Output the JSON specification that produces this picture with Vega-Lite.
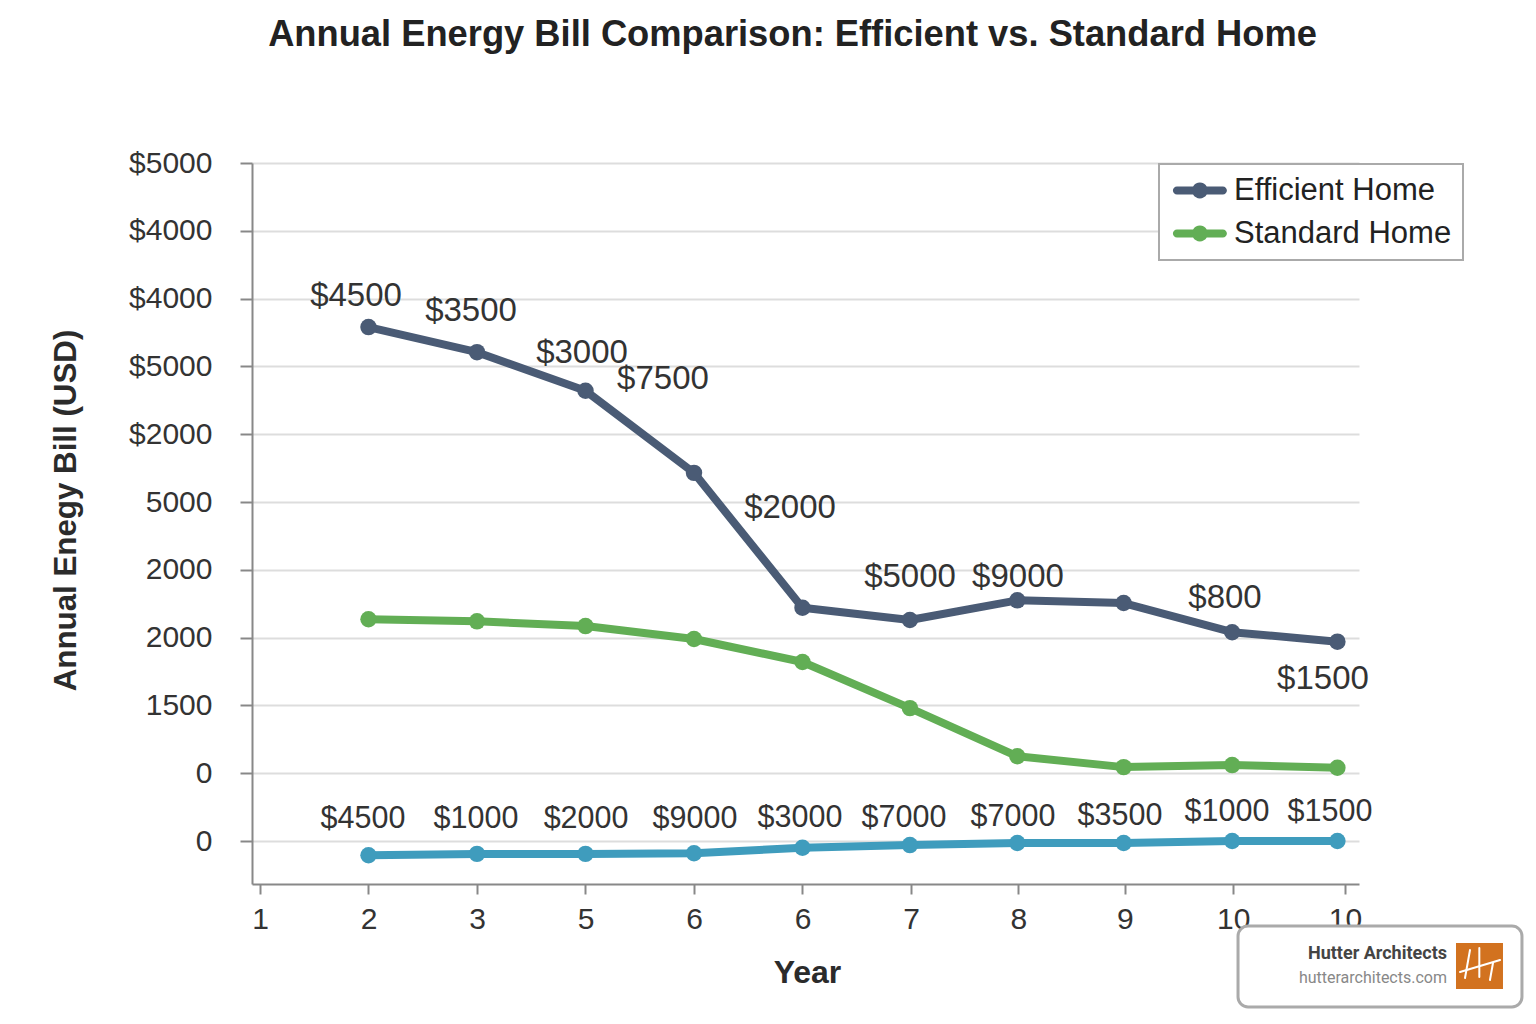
{
  "$schema": "https://vega.github.io/schema/vega-lite/v6.json",
  "width": 1107,
  "height": 721,
  "autosize": "none",
  "padding": {"left": 252, "top": 163, "right": 177, "bottom": 140},
  "background": "white",
  "title": {
    "text": "Annual Energy Bill Comparison: Efficient vs. Standard Home",
    "font": "Liberation Sans",
    "fontSize": 36.3,
    "fontWeight": "bold",
    "color": "#222222",
    "anchor": "middle",
    "dx": -13,
    "offset": 95
  },
  "datasets": {
    "bills": [
      {"series": "Efficient Home", "year": 1, "bill": 7.58},
      {"series": "Efficient Home", "year": 2, "bill": 7.21},
      {"series": "Efficient Home", "year": 3, "bill": 6.64},
      {"series": "Efficient Home", "year": 4, "bill": 5.43},
      {"series": "Efficient Home", "year": 5, "bill": 3.44},
      {"series": "Efficient Home", "year": 5.99, "bill": 3.26},
      {"series": "Efficient Home", "year": 6.98, "bill": 3.55},
      {"series": "Efficient Home", "year": 7.96, "bill": 3.51},
      {"series": "Efficient Home", "year": 8.96, "bill": 3.08},
      {"series": "Efficient Home", "year": 9.93, "bill": 2.94},
      {"series": "Standard Home", "year": 1, "bill": 3.27},
      {"series": "Standard Home", "year": 2, "bill": 3.24},
      {"series": "Standard Home", "year": 3, "bill": 3.17},
      {"series": "Standard Home", "year": 4, "bill": 2.98},
      {"series": "Standard Home", "year": 5, "bill": 2.64},
      {"series": "Standard Home", "year": 5.99, "bill": 1.96},
      {"series": "Standard Home", "year": 6.98, "bill": 1.25},
      {"series": "Standard Home", "year": 7.96, "bill": 1.09},
      {"series": "Standard Home", "year": 8.96, "bill": 1.12},
      {"series": "Standard Home", "year": 9.93, "bill": 1.08},
      {"series": "Third Home", "year": 1, "bill": -0.21},
      {"series": "Third Home", "year": 2, "bill": -0.19},
      {"series": "Third Home", "year": 3, "bill": -0.19},
      {"series": "Third Home", "year": 4, "bill": -0.18},
      {"series": "Third Home", "year": 5, "bill": -0.1},
      {"series": "Third Home", "year": 5.99, "bill": -0.06},
      {"series": "Third Home", "year": 6.98, "bill": -0.03},
      {"series": "Third Home", "year": 7.96, "bill": -0.03},
      {"series": "Third Home", "year": 8.96, "bill": 0},
      {"series": "Third Home", "year": 9.93, "bill": 0}
    ],
    "callouts": [
      {"text": "$4500", "year": 0.885, "bill": 8.04},
      {"text": "$3500", "year": 1.945, "bill": 7.82},
      {"text": "$3000", "year": 2.968, "bill": 7.2},
      {"text": "$7500", "year": 3.714, "bill": 6.81},
      {"text": "$2000", "year": 4.885, "bill": 4.91},
      {"text": "$5000", "year": 5.991, "bill": 3.89},
      {"text": "$9000", "year": 6.986, "bill": 3.89},
      {"text": "$800", "year": 8.894, "bill": 3.58},
      {"text": "$1500", "year": 9.797, "bill": 2.39}
    ],
    "lowCallouts": [
      {"text": "$4500", "year": 0.949, "bill": 0.33},
      {"text": "$1000", "year": 1.991, "bill": 0.33},
      {"text": "$2000", "year": 3.005, "bill": 0.33},
      {"text": "$9000", "year": 4.009, "bill": 0.33},
      {"text": "$3000", "year": 4.977, "bill": 0.345},
      {"text": "$7000", "year": 5.935, "bill": 0.345},
      {"text": "$7000", "year": 6.94, "bill": 0.36},
      {"text": "$3500", "year": 7.926, "bill": 0.375},
      {"text": "$1000", "year": 8.912, "bill": 0.435},
      {"text": "$1500", "year": 9.862, "bill": 0.435}
    ],
    "logoStrokes": [
      {"x": 11.152, "x2": 11.106, "y": -1.608, "y2": -2.021},
      {"x": 11.238, "x2": 11.238, "y": -1.578, "y2": -2.006},
      {"x": 11.06, "x2": 11.429, "y": -1.932, "y2": -1.755},
      {"x": 11.364, "x2": 11.336, "y": -1.799, "y2": -2.05}
    ]
  },
  "layer": [
    {
      "data": {"name": "bills"},
      "mark": {
        "type": "line",
        "strokeWidth": 8,
        "strokeCap": "round",
        "strokeJoin": "round",
        "point": {"filled": true, "size": 270, "opacity": 1}
      },
      "encoding": {
        "x": {
          "field": "year",
          "type": "quantitative",
          "scale": {"domain": [-0.0737, 10.129], "nice": false, "zero": false},
          "axis": {
            "title": "Year",
            "titleFont": "Liberation Sans",
            "titleFontSize": 32,
            "titleFontWeight": "bold",
            "titleColor": "#2b2b2b",
            "titleX": 555,
            "titleY": 73,
            "values": [0, 1, 2, 3, 4, 5, 6, 6.99, 7.97, 8.97, 10],
            "labelExpr": "['1','2','3','5','6','6','7','8','9','10','10'][round(datum.value)]",
            "labelFont": "Liberation Sans",
            "labelFontSize": 30,
            "labelColor": "#333333",
            "labelPadding": 10,
            "grid": false,
            "tickSize": 10,
            "tickColor": "#888888",
            "tickWidth": 2,
            "domainColor": "#888888",
            "domainWidth": 2
          }
        },
        "y": {
          "field": "bill",
          "type": "quantitative",
          "scale": {"domain": [-0.634, 10], "nice": false, "zero": false},
          "axis": {
            "title": "Annual Enegy Bill (USD)",
            "titleFont": "Liberation Sans",
            "titleFontSize": 31.3,
            "titleFontWeight": "bold",
            "titleColor": "#2b2b2b",
            "titleX": -170,
            "titleY": 347,
            "values": [0, 1, 2, 3, 4, 5, 6, 7, 8, 9, 10],
            "labelExpr": "['0','0','1500','2000','2000','5000','$2000','$5000','$4000','$4000','$5000'][datum.value]",
            "labelFont": "Liberation Sans",
            "labelFontSize": 30,
            "labelColor": "#333333",
            "labelPadding": 28,
            "grid": true,
            "gridColor": "#dddddd",
            "gridWidth": 2,
            "tickSize": 12,
            "tickColor": "#888888",
            "tickWidth": 2,
            "domainColor": "#888888",
            "domainWidth": 2
          }
        },
        "color": {
          "field": "series",
          "type": "nominal",
          "scale": {
            "domain": ["Efficient Home", "Standard Home", "Third Home"],
            "range": ["#4a5b75", "#62ae55", "#3f9cbd"]
          },
          "legend": {
            "values": ["Efficient Home", "Standard Home"],
            "title": null,
            "orient": "none",
            "legendX": 907,
            "legendY": 1,
            "fillColor": "white",
            "strokeColor": "#aaaaaa",
            "padding": 11,
            "labelFont": "Liberation Sans",
            "labelFontSize": 31,
            "labelColor": "#222222",
            "labelLimit": 400,
            "labelExpr": "datum.label + '\u00a0'",
            "symbolType": "M-0.57,-0.27H0.504A0.53,0.53,0,0,1,1.416,-0.27H2.49A0.27,0.27,0,0,1,2.49,0.27H1.416A0.53,0.53,0,0,1,0.504,0.27H-0.57A0.27,0.27,0,0,1,-0.57,-0.27Z",
            "symbolSize": 900,
            "symbolStrokeWidth": 0,
            "rowPadding": 11,
            "labelOffset": 33
          }
        }
      }
    },
    {
      "data": {"name": "callouts"},
      "mark": {
        "type": "text",
        "font": "Liberation Sans",
        "fontSize": 33,
        "color": "#333333",
        "align": "center",
        "baseline": "middle"
      },
      "encoding": {
        "x": {"field": "year", "type": "quantitative"},
        "y": {"field": "bill", "type": "quantitative"},
        "text": {"field": "text", "type": "nominal"}
      }
    },
    {
      "data": {"name": "lowCallouts"},
      "mark": {
        "type": "text",
        "font": "Liberation Sans",
        "fontSize": 30.5,
        "color": "#333333",
        "align": "center",
        "baseline": "middle"
      },
      "encoding": {
        "x": {"field": "year", "type": "quantitative"},
        "y": {"field": "bill", "type": "quantitative"},
        "text": {"field": "text", "type": "nominal"}
      }
    },
    {
      "data": {"values": [{"x": 9.014, "x2": 11.631, "y": -1.254, "y2": -2.448}]},
      "mark": {"type": "rect", "fill": "white", "stroke": "#aaaaaa", "strokeWidth": 3, "cornerRadius": 10},
      "encoding": {
        "x": {"field": "x", "type": "quantitative"},
        "x2": {"field": "x2"},
        "y": {"field": "y", "type": "quantitative"},
        "y2": {"field": "y2"}
      }
    },
    {
      "data": {"values": [{"x": 11.023, "x2": 11.456, "y": -1.504, "y2": -2.183}]},
      "mark": {"type": "rect", "fill": "#d2721f"},
      "encoding": {
        "x": {"field": "x", "type": "quantitative"},
        "x2": {"field": "x2"},
        "y": {"field": "y", "type": "quantitative"},
        "y2": {"field": "y2"}
      }
    },
    {
      "data": {"name": "logoStrokes"},
      "mark": {"type": "rule", "color": "white", "strokeWidth": 2, "strokeCap": "round"},
      "encoding": {
        "x": {"field": "x", "type": "quantitative"},
        "x2": {"field": "x2"},
        "y": {"field": "y", "type": "quantitative"},
        "y2": {"field": "y2"}
      }
    },
    {
      "data": {"values": [{"text": "Hutter Architects", "x": 10.94, "y": -1.667}]},
      "mark": {"type": "text", "font": "Roboto", "fontSize": 18, "fontWeight": "bold", "color": "#444444", "align": "right", "baseline": "middle"},
      "encoding": {
        "x": {"field": "x", "type": "quantitative"},
        "y": {"field": "y", "type": "quantitative"},
        "text": {"field": "text", "type": "nominal"}
      }
    },
    {
      "data": {"values": [{"text": "hutterarchitects.com", "x": 10.94, "y": -2.02}]},
      "mark": {"type": "text", "font": "Roboto", "fontSize": 16, "color": "#888888", "align": "right", "baseline": "middle"},
      "encoding": {
        "x": {"field": "x", "type": "quantitative"},
        "y": {"field": "y", "type": "quantitative"},
        "text": {"field": "text", "type": "nominal"}
      }
    }
  ],
  "config": {"view": {"stroke": null}, "legend": {"strokeWidth": 2}}
}
